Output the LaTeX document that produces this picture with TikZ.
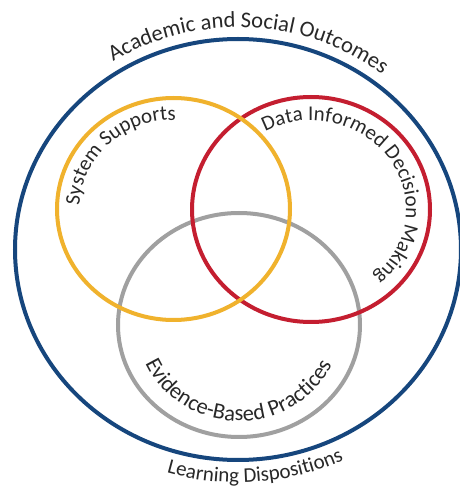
\documentclass[tikz,border=0pt]{standalone}
\usepackage{fontspec}
\setmainfont{Carlito}
\usetikzlibrary{decorations.text}
\definecolor{cblue}{RGB}{22,70,125}
\definecolor{cyellow}{RGB}{240,178,45}
\definecolor{cred}{RGB}{196,30,48}
\definecolor{cgray}{RGB}{160,160,160}
\definecolor{ctext}{RGB}{40,40,40}
\newcommand{\lblfont}{\fontsize{21}{21}\selectfont}
\newcommand{\bigfont}{\fontsize{22.5}{22.5}\selectfont}
\tikzset{
  ring/.style={line width=4pt},
  curvedlabel/.style={decorate, decoration={text along path, text align=center, text color=ctext}}
}
\begin{document}
\begin{tikzpicture}[x=1pt,y=1pt]
\useasboundingbox[fill=white] (0,0) rectangle (459,488);
% rings
\draw[ring,cblue]   (238,238.5) ellipse [x radius=223pt, y radius=210.5pt];
\draw[ring,cgray]   (239,163) ellipse [x radius=121pt, y radius=112pt];
\draw[ring,cred]    (311,278.5) ellipse [x radius=119pt, y radius=112.5pt];
\draw[ring,cyellow] (173.5,279) ellipse [x radius=116.5pt, y radius=111pt];
% labels
\path[curvedlabel, decoration={text={|\bigfont|Academic and Social Outcomes}}]
  (238,238.5) ++(177:235pt and 222pt) arc[start angle=177, end angle=-3, x radius=235pt, y radius=222pt];
\path[curvedlabel, decoration={text={|\lblfont|Learning Dispositions}}]
  (238,238.5) ++(184.5:246pt and 233pt) arc[start angle=184.5, end angle=364.5, x radius=246pt, y radius=233pt];
\path[curvedlabel, decoration={text={|\lblfont|System Supports}}]
  (173.5,279) ++(224:94pt and 89pt) arc[start angle=224, end angle=44, x radius=94pt, y radius=89pt];
\path[curvedlabel, decoration={text={|\lblfont|Data Informed Decision Making}}]
  (311,278.5) ++(125:95pt and 89pt) arc[start angle=125, end angle=-55, x radius=95pt, y radius=89pt];
\path[curvedlabel, decoration={text={|\bigfont|Evidence-Based Practices}}]
  (239,163) ++(179.5:102pt and 96pt) arc[start angle=179.5, end angle=359.5, x radius=102pt, y radius=96pt];
\end{tikzpicture}
\end{document}
